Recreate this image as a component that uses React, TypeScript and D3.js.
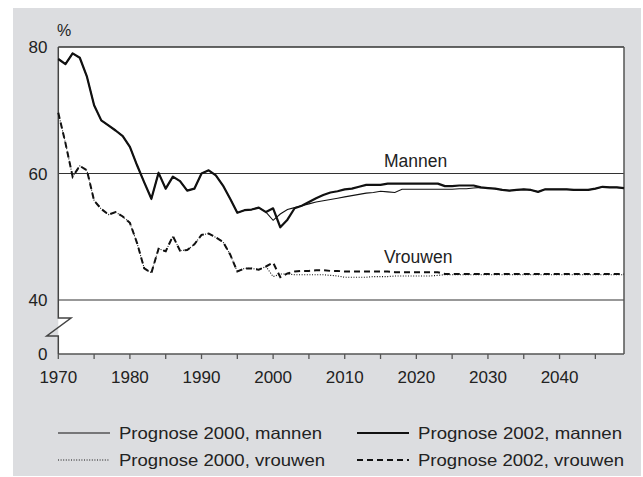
import React from "react";
import * as d3 from "d3";

// ---- data ----
const histYears = d3.range(1970, 2000);
const histMannen = [78.1, 77.3, 79.0, 78.3, 75.3, 70.8, 68.4, 67.6, 66.8, 65.9, 64.2, 61.3, 58.6, 56.0, 60.1, 57.6, 59.5, 58.8, 57.3, 57.6, 60.0, 60.5, 59.7, 58.1, 56.0, 53.8, 54.2, 54.3, 54.6, 53.9];
const histVrouwen = [69.6, 64.8, 59.5, 61.2, 60.5, 55.7, 54.4, 53.5, 53.9, 53.2, 52.2, 49.0, 45.0, 44.3, 48.1, 47.7, 50.1, 47.8, 47.9, 48.8, 50.3, 50.5, 49.9, 49.2, 47.2, 44.5, 45.0, 45.0, 44.8, 45.3];

const progYears = d3.range(2000, 2050);
const prog2000Mannen = [52.6, 53.6, 54.3, 54.6, 54.9, 55.2, 55.5, 55.7, 55.9, 56.1, 56.3, 56.5, 56.7, 56.9, 57.0, 57.2, 57.1, 57.0, 57.5, 57.5, 57.5, 57.5, 57.5, 57.5, 57.5, 57.5, 57.6, 57.6, 57.7, 57.8, 57.7, 57.6, 57.4, 57.3, 57.4, 57.5, 57.4, 57.1, 57.5, 57.5, 57.5, 57.5, 57.4, 57.4, 57.4, 57.6, 57.9, 57.8, 57.8, 57.7];
const prog2002Mannen = [54.5, 51.5, 52.7, 54.5, 54.9, 55.5, 56.1, 56.6, 57.0, 57.2, 57.5, 57.6, 57.9, 58.2, 58.2, 58.2, 58.4, 58.4, 58.4, 58.4, 58.4, 58.4, 58.4, 58.4, 58.0, 58.0, 58.1, 58.1, 58.1, 57.8, 57.7, 57.6, 57.4, 57.3, 57.4, 57.5, 57.4, 57.1, 57.5, 57.5, 57.5, 57.5, 57.4, 57.4, 57.4, 57.6, 57.9, 57.8, 57.8, 57.7];
const prog2000Vrouwen = [43.7, 44.1, 44.1, 44.0, 44.0, 44.0, 44.0, 44.0, 43.9, 43.8, 43.6, 43.6, 43.6, 43.6, 43.7, 43.7, 43.7, 43.8, 43.8, 43.8, 43.8, 43.8, 43.8, 43.9, 44.0, 44.0, 44.0, 44.0, 44.0, 44.0, 44.0, 44.0, 44.0, 44.0, 44.0, 44.0, 44.0, 44.0, 44.0, 44.0, 44.0, 44.0, 44.0, 44.0, 44.0, 44.0, 44.0, 44.0, 44.0, 44.0];
const prog2002Vrouwen = [45.9, 43.6, 44.2, 44.5, 44.6, 44.6, 44.7, 44.7, 44.6, 44.6, 44.5, 44.5, 44.5, 44.5, 44.5, 44.5, 44.5, 44.4, 44.4, 44.4, 44.4, 44.4, 44.4, 44.4, 44.1, 44.1, 44.1, 44.1, 44.1, 44.1, 44.1, 44.1, 44.1, 44.1, 44.1, 44.1, 44.1, 44.1, 44.1, 44.1, 44.1, 44.1, 44.1, 44.1, 44.1, 44.1, 44.1, 44.1, 44.1, 44.1];

const xTicks = d3.range(1970, 2050, 5);
const xLabels = d3.range(1970, 2050, 10);
const yTicks = [80, 60, 40];
const legendItems = [
  "Prognose 2000, mannen",
  "Prognose 2002, mannen",
  "Prognose 2000, vrouwen",
  "Prognose 2002, vrouwen",
];

const FONT = "'Liberation Sans', Arial, Helvetica, sans-serif";
const TXT = "#222";

export default function App() {
  const left = 58.3, right = 624, top = 47, bottom = 354;
  const x = d3.scaleLinear().domain([1970, 2049]).range([left, right]);
  const y = d3.scaleLinear().domain([40, 80]).range([300, top]);

  const pts = (ys: number[], vs: number[]) => ys.map((yr, i) => [yr, vs[i]] as [number, number]);
  const line = d3.line<[number, number]>().x(d => x(d[0])).y(d => y(d[1]));

  const s2000M = pts([...histYears, ...progYears], [...histMannen, ...prog2000Mannen]);
  const s2002M = pts([...histYears, ...progYears], [...histMannen, ...prog2002Mannen]);
  const s2000V = pts([...histYears, ...progYears], [...histVrouwen, ...prog2000Vrouwen]);
  const s2002V = pts([...histYears, ...progYears], [...histVrouwen, ...prog2002Vrouwen]);

  const brk1 = 318, brk2 = 336;
  const axisPath = `M${left},${top} V${brk1} H${left + 12.7} L${left - 11.6},${brk2} H${left} V${bottom}`;

  const styles = [
    { w: 1.1, dash: "" },
    { w: 2.2, dash: "" },
    { w: 1.1, dash: "1,1.6" },
    { w: 2, dash: "6,4" },
  ];
  const legPos = [
    [58, 433], [357, 433], [58, 460], [357, 460],
  ];
  const legLen = [203, 204, 206, 206];

  return (
    <svg width={643} height={477} style={{ position: "absolute", left: 0, top: 0 }} fontFamily={FONT}>
      <rect x={0} y={0} width={643} height={477} fill="#fff" />
      <rect x={13} y={8} width={628} height={468} fill="#dcdde0" />
      <rect x={left} y={top} width={right - left} height={bottom - top} fill="#fff" />
      {[60, 40].map(v => (
        <line key={v} x1={left} x2={right} y1={y(v)} y2={y(v)} stroke="#333" strokeWidth={1.2} />
      ))}
      <line x1={left} x2={right} y1={top} y2={top} stroke="#333" strokeWidth={1.5} />
      <line x1={right} x2={right} y1={top} y2={bottom} stroke="#555" strokeWidth={1.5} />
      <line x1={left} x2={right} y1={bottom} y2={bottom} stroke="#555" strokeWidth={1.5} />
      <path d={axisPath} fill="none" stroke="#444" strokeWidth={1.5} />
      {xTicks.map(t => (
        <line key={t} x1={x(t)} x2={x(t)} y1={bottom} y2={bottom + 5} stroke="#555" strokeWidth={1.3} />
      ))}
      {xLabels.map(t => (
        <text key={t} x={x(t)} y={382.5} textAnchor="middle" fontSize={17} fill={TXT}>{t}</text>
      ))}
      {yTicks.map(t => (
        <text key={t} x={47.5} y={y(t) + 6} textAnchor="end" fontSize={17} fill={TXT}>{t}</text>
      ))}
      <text x={47.5} y={bottom + 6} textAnchor="end" fontSize={17} fill={TXT}>0</text>
      <text x={57} y={36} fontSize={16} fill={TXT}>%</text>

      <path d={line(s2000M) || ""} fill="none" stroke="#111" strokeWidth={1.1} />
      <path d={line(s2002M) || ""} fill="none" stroke="#111" strokeWidth={2.2} strokeLinejoin="round" />
      <path d={line(s2000V) || ""} fill="none" stroke="#111" strokeWidth={1.1} strokeDasharray="1,1.6" />
      <path d={line(s2002V) || ""} fill="none" stroke="#111" strokeWidth={2} strokeDasharray="6,4" />

      <text x={384} y={166.5} fontSize={17.5} fill={TXT}>Mannen</text>
      <text x={384} y={263} fontSize={17.5} fill={TXT}>Vrouwen</text>

      {legendItems.map((name, i) => (
        <g key={name}>
          <line x1={legPos[i][0]} x2={legPos[i][0] + 52} y1={legPos[i][1]} y2={legPos[i][1]}
            stroke="#111" strokeWidth={styles[i].w} strokeDasharray={styles[i].dash} />
          <text x={legPos[i][0] + 61} y={legPos[i][1] + 5.5} fontSize={16.5} fill={TXT}
            textLength={legLen[i]} lengthAdjust="spacingAndGlyphs">{name}</text>
        </g>
      ))}
    </svg>
  );
}
